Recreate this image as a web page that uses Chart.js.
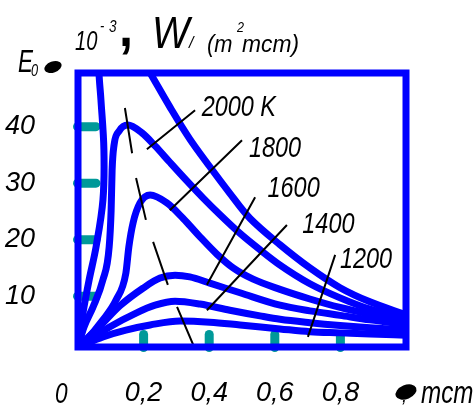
<!DOCTYPE html>
<html>
<head>
<meta charset="utf-8">
<script src="https://cdn.jsdelivr.net/npm/chart.js@4.4.1/dist/chart.umd.min.js"></script>
<style>
  body { margin: 0; background: #fff; }
</style>
</head>
<body>
<canvas id="chart" width="476" height="408"></canvas>
<script>
const BLUE = '#0000ff';
const TEAL = '#009999';
const SANS = '"Liberation Sans", Arial, sans-serif';

// wavelength (mcm) and E0 (10^-3 W/(m2 mcm))
// top curve is not labelled, its peak is off the frame
const lamTop = [0, 0.015, 0.034, 0.055, 0.076, 0.079, 0.070, 0.064, 0.063, 0.11, 0.18, 0.220, 0.280, 0.341, 0.402, 0.463, 0.524, 0.616, 0.707, 0.799, 0.890, 1.0];
const eTop = [1, 7.0, 12.9, 18.7, 27.0, 35.9, 44.7, 49.5, 54, 62, 53.4, 49.5, 43.5, 37.8, 32.9, 28.2, 23.8, 19.1, 15.0, 11.5, 9.0, 6.7];

const lam2000 = [0, 0.018, 0.046, 0.076, 0.095, 0.101, 0.104, 0.110, 0.125, 0.152, 0.195, 0.235, 0.280, 0.332, 0.381, 0.433, 0.494, 0.555, 0.616, 0.707, 0.799, 0.890, 1.0];
const e2000 = [1, 4.5, 8.1, 12.9, 18.7, 25.2, 32.3, 36.8, 39.2, 40.3, 38.9, 36.6, 33.7, 30.4, 27.4, 24.4, 21.1, 18.2, 15.5, 12.2, 9.7, 7.7, 6.1];

const lam1800 = [0, 0.024, 0.076, 0.116, 0.146, 0.155, 0.168, 0.189, 0.220, 0.271, 0.320, 0.372, 0.424, 0.473, 0.534, 0.616, 0.707, 0.799, 0.890, 1.0];
const e1800 = [1, 2.2, 5.8, 9.3, 14.1, 18.7, 23.0, 26.5, 27.9, 26.5, 23.8, 20.5, 17.4, 15.0, 13.0, 11.2, 9.5, 8.0, 6.8, 5.6];

const lam1600 = [0, 0.064, 0.128, 0.198, 0.250, 0.296, 0.341, 0.402, 0.494, 0.616, 0.707, 0.799, 0.890, 1.0];
const e1600 = [1, 4.5, 8.3, 11.4, 13.2, 13.7, 13.4, 12.3, 10.6, 8.4, 7.4, 6.6, 5.8, 5.0];

const lam1400 = [0, 0.095, 0.177, 0.235, 0.296, 0.372, 0.463, 0.555, 0.616, 0.707, 0.799, 0.890, 1.0];
const e1400 = [1, 4.5, 7.0, 8.4, 9.1, 8.6, 7.5, 6.5, 5.9, 5.3, 4.8, 4.4, 4.0];

const lam1200 = [0, 0.076, 0.146, 0.220, 0.311, 0.402, 0.494, 0.616, 0.707, 0.799, 0.890, 1.0];
const e1200 = [1, 2.8, 4.0, 4.9, 5.6, 5.4, 4.9, 4.2, 3.7, 3.5, 3.3, 3.1];

// curve labels (text start) and their leader lines, two points per leader
const labelNames = ['2000 K', '1800', '1600', '1400', '1200'];
const labelX = [0.377, 0.521, 0.578, 0.684, 0.799];
const labelY = [41.9, 34.6, 27.5, 21.2, 15.0];
const leaderX = [0.357, 0.210, 0.5, 0.280, 0.540, 0.393, 0.637, 0.393, 0.784, 0.701];
const leaderY = [42.9, 36.0, 37.6, 25.2, 27.5, 12.0, 22.6, 7.5, 17.3, 2.8];

// dashed line through the maxima, two points per dash
const peakX = [0.143, 0.165, 0.177, 0.207, 0.229, 0.274, 0.302, 0.354];
const peakY = [43.3, 35.3, 30.9, 23.5, 19.6, 12.0, 8.1, 1.0];

const xTicks = [0.2, 0.4, 0.6, 0.8];
const yTicks = [10, 20, 30, 40];

function pts(xs, ys) {
  return xs.map((x, i) => ({ x: x, y: ys[i] }));
}

// pairs of points with a gap after each pair
function pairs(xs, ys) {
  const out = [];
  for (let i = 0; i < xs.length; i += 2) {
    out.push({ x: xs[i], y: ys[i] }, { x: xs[i + 1], y: ys[i + 1] }, { x: xs[i + 1], y: null });
  }
  return out;
}

function curve(xs, ys, mono) {
  return {
    data: pts(xs, ys),
    borderColor: BLUE,
    borderWidth: 7,
    borderCapStyle: 'round',
    borderJoinStyle: 'round',
    pointRadius: 0,
    tension: 0.35,
    cubicInterpolationMode: mono ? 'monotone' : 'default',
    fill: false,
    order: 2
  };
}

function thin(data) {
  return {
    data: data,
    borderColor: '#000',
    borderWidth: 2,
    pointRadius: 0,
    tension: 0,
    spanGaps: false,
    fill: false,
    order: 0
  };
}

// text squeezed sideways, the original lettering is a narrow face
function txt(ctx, s, x, y, font, sx) {
  ctx.save();
  ctx.font = font;
  ctx.translate(x, y);
  ctx.scale(sx || 1, 1);
  ctx.fillText(s, 0, 0);
  ctx.restore();
}

const decor = {
  id: 'decor',
  beforeDatasetsDraw(chart) {
    const { ctx, chartArea: a, scales: { x, y } } = chart;
    ctx.save();
    ctx.strokeStyle = TEAL;
    ctx.lineWidth = 9;
    ctx.lineCap = 'round';
    yTicks.forEach(v => {
      const py = y.getPixelForValue(v);
      ctx.beginPath();
      ctx.moveTo(a.left - 0.5, py);
      ctx.lineTo(a.left + 18, py);
      ctx.stroke();
    });
    xTicks.forEach(v => {
      const px = x.getPixelForValue(v);
      ctx.beginPath();
      ctx.moveTo(px, a.bottom - 12.5);
      ctx.lineTo(px, a.bottom + 0.5);
      ctx.stroke();
    });
    ctx.restore();
  },
  afterDatasetsDraw(chart) {
    const { ctx, chartArea: a, scales: { x, y } } = chart;
    ctx.save();
    // frame
    ctx.strokeStyle = BLUE;
    ctx.lineWidth = 7;
    ctx.strokeRect(a.left, a.top, a.right - a.left, a.bottom - a.top);

    ctx.fillStyle = '#000';
    ctx.textAlign = 'left';
    ctx.textBaseline = 'alphabetic';
    labelNames.forEach((s, i) => {
      txt(ctx, s, x.getPixelForValue(labelX[i]), y.getPixelForValue(labelY[i]), 'italic 30px ' + SANS, 0.78);
    });

    // title: 10^-3, W/ (m2 mcm)
    txt(ctx, '10', 75, 50, 'italic 28px ' + SANS, 0.72);
    txt(ctx, '-', 100, 31, 'italic 16px ' + SANS, 0.8);
    txt(ctx, '3', 109, 32, 'italic 17px ' + SANS, 0.8);
    txt(ctx, ',', 119, 46, 'bold 56px ' + SANS, 0.9);
    txt(ctx, 'W', 152, 48, 'italic 44px ' + SANS, 0.9);
    txt(ctx, '/', 189, 48, 'italic 16px ' + SANS);
    txt(ctx, '(m', 207, 52, 'italic 23px ' + SANS, 0.95);
    txt(ctx, '2', 237, 32, 'italic 14px ' + SANS, 0.9);
    txt(ctx, 'mcm)', 242, 52, 'italic 24px ' + SANS, 0.95);

    // axis name E0 with the lambda blot
    txt(ctx, 'E', 18, 72, 'italic 32px ' + SANS, 0.7);
    txt(ctx, '0', 31, 76, 'italic 17px ' + SANS, 0.75);
    ctx.beginPath();
    ctx.ellipse(53, 67, 9, 5.5, -0.35, 0, Math.PI * 2);
    ctx.fill();

    // origin label and x axis name
    txt(ctx, '0', x.getPixelForValue(0) - 23, 403, 'italic 29px ' + SANS, 0.78);
    ctx.beginPath();
    ctx.ellipse(406, 392, 11, 7, -0.4, 0, Math.PI * 2);
    ctx.fill();
    txt(ctx, ',', 402, 402, 'italic 18px ' + SANS);
    txt(ctx, 'mcm', 421, 403, 'italic 31px ' + SANS, 0.78);
    ctx.restore();
  }
};

const tickFont = { family: SANS, size: 27, style: 'italic' };

new Chart(document.getElementById('chart'), {
  type: 'line',
  data: {
    datasets: [
      thin(pairs(leaderX, leaderY)),
      thin(pairs(peakX, peakY)),
      curve(lamTop, eTop, false),
      curve(lam2000, e2000, true),
      curve(lam1800, e1800, true),
      curve(lam1600, e1600, true),
      curve(lam1400, e1400, true),
      curve(lam1200, e1200, true)
    ]
  },
  options: {
    responsive: false,
    animation: false,
    devicePixelRatio: 1,
    layout: { padding: { top: 73, right: 70, left: 0, bottom: 0 } },
    plugins: { legend: { display: false }, tooltip: { enabled: false } },
    scales: {
      x: {
        type: 'linear',
        min: 0,
        max: 1,
        grid: { display: false, drawTicks: false },
        border: { display: false },
        afterBuildTicks: s => { s.ticks = xTicks.map(v => ({ value: v })); },
        afterFit: s => { s.height = 61; },
        ticks: {
          padding: 30,
          maxRotation: 0,
          color: '#000',
          font: tickFont,
          callback: v => v.toFixed(1).replace('.', ',')
        }
      },
      y: {
        min: 1,
        max: 49.5,
        grid: { display: false, drawTicks: false },
        border: { display: false },
        afterBuildTicks: s => { s.ticks = yTicks.map(v => ({ value: v })); },
        afterFit: s => { s.width = 78; },
        ticks: {
          padding: 43,
          color: '#000',
          font: tickFont,
          callback: v => String(v)
        }
      }
    }
  },
  plugins: [decor]
});
</script>
</body>
</html>
